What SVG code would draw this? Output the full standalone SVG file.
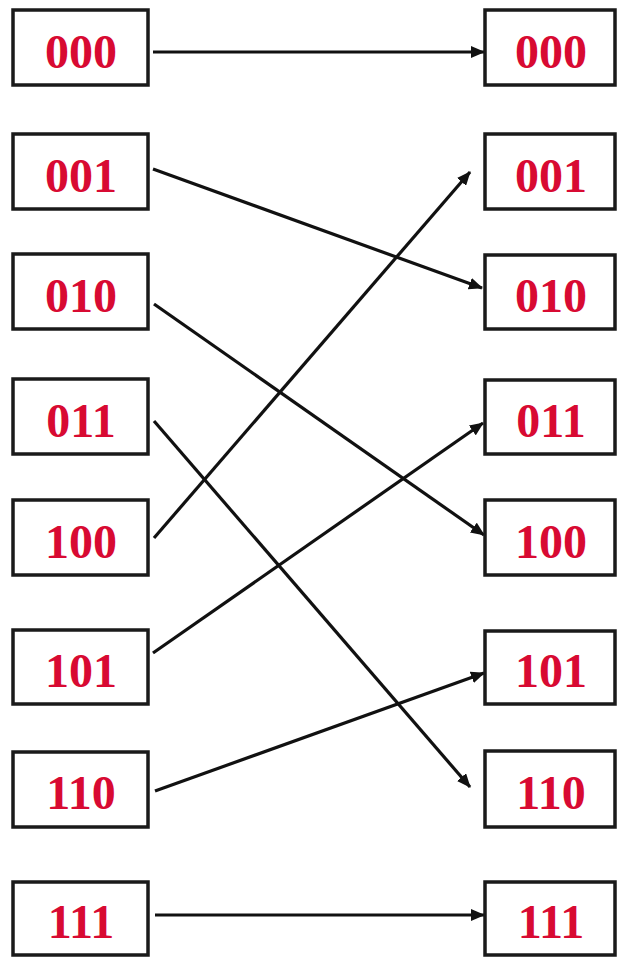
<svg xmlns="http://www.w3.org/2000/svg" width="617" height="957" viewBox="0 0 617 957">
<style>
.box{fill:#fff;stroke:#1a1a1a;stroke-width:3.5}
.lbl{font-family:"Liberation Serif","Times New Roman",serif;font-weight:bold;font-size:48px;fill:#d80a32;text-anchor:middle}
.c{stroke:#111;stroke-width:3.2;fill:none;marker-end:url(#ah)}
</style>
<defs>
<marker id="ah" markerUnits="userSpaceOnUse" markerWidth="14" markerHeight="12" refX="13" refY="6" orient="auto">
<path d="M0,0 L14,6 L0,12 Z" fill="#111"/>
</marker>
</defs>
<rect width="617" height="957" fill="#fff"/>
<g id="connectors">
<line class="c" x1="153" y1="52" x2="484" y2="52"/>
<line class="c" x1="153" y1="169" x2="482" y2="288"/>
<line class="c" x1="154" y1="304" x2="484" y2="535"/>
<line class="c" x1="154" y1="421" x2="470" y2="787"/>
<line class="c" x1="154" y1="538" x2="470" y2="172"/>
<line class="c" x1="153" y1="653" x2="483" y2="423"/>
<line class="c" x1="155" y1="791" x2="484" y2="673"/>
<line class="c" x1="155" y1="915" x2="484" y2="915"/>
</g>
<g id="L000"><rect class="box" x="13" y="10" width="135" height="75"/><text class="lbl" x="81" y="68">000</text></g>
<g id="L001"><rect class="box" x="13" y="134" width="135" height="75"/><text class="lbl" x="81" y="192">001</text></g>
<g id="L010"><rect class="box" x="13" y="254" width="135" height="75"/><text class="lbl" x="81" y="312">010</text></g>
<g id="L011"><rect class="box" x="13" y="379" width="135" height="75"/><text class="lbl" x="81" y="437">011</text></g>
<g id="L100"><rect class="box" x="13" y="500" width="135" height="75"/><text class="lbl" x="81" y="558">100</text></g>
<g id="L101"><rect class="box" x="13" y="630" width="135" height="74"/><text class="lbl" x="81" y="687">101</text></g>
<g id="L110"><rect class="box" x="13" y="752" width="135" height="75"/><text class="lbl" x="81" y="809">110</text></g>
<g id="L111"><rect class="box" x="13" y="882" width="135" height="73"/><text class="lbl" x="81" y="938">111</text></g>
<g id="R000"><rect class="box" x="485" y="10" width="130" height="75"/><text class="lbl" x="551" y="68">000</text></g>
<g id="R001"><rect class="box" x="485" y="134" width="130" height="75"/><text class="lbl" x="551" y="192">001</text></g>
<g id="R010"><rect class="box" x="485" y="255" width="130" height="74"/><text class="lbl" x="551" y="312">010</text></g>
<g id="R011"><rect class="box" x="485" y="380" width="130" height="74"/><text class="lbl" x="551" y="437">011</text></g>
<g id="R100"><rect class="box" x="485" y="500" width="130" height="75"/><text class="lbl" x="551" y="558">100</text></g>
<g id="R101"><rect class="box" x="485" y="631" width="130" height="73"/><text class="lbl" x="551" y="687">101</text></g>
<g id="R110"><rect class="box" x="485" y="751" width="130" height="76"/><text class="lbl" x="551" y="809">110</text></g>
<g id="R111"><rect class="box" x="485" y="882" width="130" height="73"/><text class="lbl" x="551" y="938">111</text></g>
</svg>
